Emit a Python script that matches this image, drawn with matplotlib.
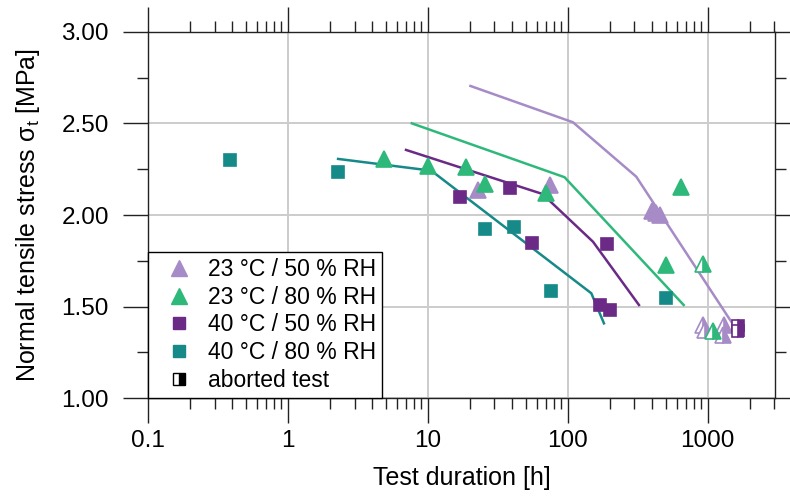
import matplotlib.pyplot as plt
from matplotlib.lines import Line2D
from matplotlib.ticker import LogLocator, FixedLocator, NullFormatter

plt.rcParams['font.family'] = ['Liberation Sans', 'DejaVu Sans']

# cores das series
cor_23_50 = '#a68bc6'
cor_23_80 = '#2eb87a'
cor_40_50 = '#6a2a86'
cor_40_80 = '#168a88'

# 23 °C / 50 % RH
x_23_50 = [22.9, 75.2, 400, 430, 455]
y_23_50 = [2.136, 2.164, 2.02, 2.01, 2.00]
x_23_50_abort = [920, 960, 1300, 1285]
y_23_50_abort = [1.40, 1.37, 1.40, 1.345]
fit_x_23_50 = [20.2, 109, 309, 1500]
fit_y_23_50 = [2.704, 2.506, 2.209, 1.409]

# 23 °C / 80 % RH
x_23_80 = [4.9, 10, 18.8, 25.5, 69.7, 501, 649]
y_23_80 = [2.306, 2.267, 2.262, 2.169, 2.12, 1.727, 2.154]
x_23_80_abort = [925, 1092]
y_23_80_abort = [1.733, 1.369]
fit_x_23_80 = [7.7, 95, 674]
fit_y_23_80 = [2.50, 2.206, 1.509]

# 40 °C / 50 % RH
x_40_50 = [16.9, 38.5, 55.6, 192, 169, 200]
y_40_50 = [2.097, 2.149, 1.849, 1.842, 1.509, 1.48]
x_40_50_abort = [1650, 1650]
y_40_50_abort = [1.395, 1.365]
fit_x_40_50 = [7.0, 65.9, 151.7, 323]
fit_y_40_50 = [2.355, 2.115, 1.854, 1.509]

# 40 °C / 80 % RH
x_40_80 = [0.39, 2.29, 25.8, 41.4, 76.4, 501]
y_40_80 = [2.30, 2.233, 1.922, 1.933, 1.587, 1.548]
fit_x_40_80 = [2.29, 10.6, 147.5, 181.6]
fit_y_40_80 = [2.306, 2.242, 1.573, 1.409]

legenda = ['23 °C / 50 % RH', '23 °C / 80 % RH', '40 °C / 50 % RH',
           '40 °C / 80 % RH', 'aborted test']

fig = plt.figure(figsize=(7.9, 5.0), dpi=100)
ax = fig.add_axes([0.187, 0.2034, 0.7946, 0.7332])

tri = dict(marker='^', markersize=11, linestyle='none', markeredgewidth=1.2)
sq = dict(marker='s', markersize=9, linestyle='none', markeredgewidth=1.2)
ab = dict(fillstyle='right', markerfacecoloralt='white')

# linhas de ajuste
ax.plot(fit_x_23_50, fit_y_23_50, color=cor_23_50, lw=1.8, zorder=3)
ax.plot(fit_x_23_80, fit_y_23_80, color=cor_23_80, lw=1.8, zorder=3)
ax.plot(fit_x_40_50, fit_y_40_50, color=cor_40_50, lw=1.8, zorder=3)
ax.plot(fit_x_40_80, fit_y_40_80, color=cor_40_80, lw=1.8, zorder=3)

# pontos
ax.plot(x_23_50, y_23_50, color=cor_23_50, zorder=4, **tri)
ax.plot(x_23_80, y_23_80, color=cor_23_80, zorder=4, **tri)
ax.plot(x_40_50, y_40_50, color=cor_40_50, zorder=4, **sq)
ax.plot(x_40_80, y_40_80, color=cor_40_80, zorder=4, **sq)
ax.plot(x_23_50_abort, y_23_50_abort, color=cor_23_50, zorder=4, **tri, **ab)
ax.plot(x_23_80_abort, y_23_80_abort, color=cor_23_80, zorder=4, **tri, **ab)
ax.plot(x_40_50_abort, y_40_50_abort, color=cor_40_50, zorder=4, **sq, **ab)

ax.set_xscale('log')
ax.set_xlim(0.1, 3050)
ax.set_ylim(1.0, 3.0)
ax.xaxis.set_major_locator(FixedLocator([0.1, 1, 10, 100, 1000]))
ax.xaxis.set_major_formatter(plt.FuncFormatter(lambda v, p: '%g' % v))
ax.xaxis.set_minor_locator(LogLocator(base=10, subs=range(2, 10), numticks=20))
ax.xaxis.set_minor_formatter(NullFormatter())
ax.set_yticks([1.0, 1.5, 2.0, 2.5, 3.0])
ax.set_yticks([1.25, 1.75, 2.25, 2.75], minor=True)
ax.yaxis.set_major_formatter(plt.FuncFormatter(lambda v, p: '%.2f' % v))

ax.tick_params(which='major', direction='out', length=18, width=1.0,
               labelsize=17.5, top=True, right=True, pad=10, color='#222222')
ax.tick_params(which='minor', direction='out', length=8, width=1.0,
               top=True, right=True, color='#222222')
ax.tick_params(axis='x', which='major', pad=5)
for s in ax.spines.values():
    s.set_linewidth(1.0)
    s.set_color('#222222')

ax.grid(True, which='major', color='#cccccc', lw=1.4, zorder=0)
ax.set_axisbelow(True)

ax.set_xlabel('Test duration [h]', fontsize=18, labelpad=10)
ax.set_ylabel('Normal tensile stress σ$_\\mathregular{t}$ [MPa]', fontsize=18, labelpad=14)

# legenda
handles = [
    Line2D([], [], color=cor_23_50, marker='^', markersize=11, linestyle='none'),
    Line2D([], [], color=cor_23_80, marker='^', markersize=11, linestyle='none'),
    Line2D([], [], color=cor_40_50, marker='s', markersize=8.5, linestyle='none'),
    Line2D([], [], color=cor_40_80, marker='s', markersize=8.5, linestyle='none'),
    Line2D([], [], color='black', marker='s', markersize=8.5, linestyle='none',
           fillstyle='right', markerfacecoloralt='white'),
]
leg = ax.legend(handles, legenda, loc='lower left', bbox_to_anchor=(0, 0),
                borderaxespad=0, fontsize=16.5, frameon=True, fancybox=False,
                edgecolor='black', framealpha=1, handletextpad=0.15,
                labelspacing=0.21, borderpad=0.27, handlelength=2.2)
leg.get_frame().set_linewidth(1.0)
leg.set_zorder(6)

fig.savefig('out.png', dpi=100)
